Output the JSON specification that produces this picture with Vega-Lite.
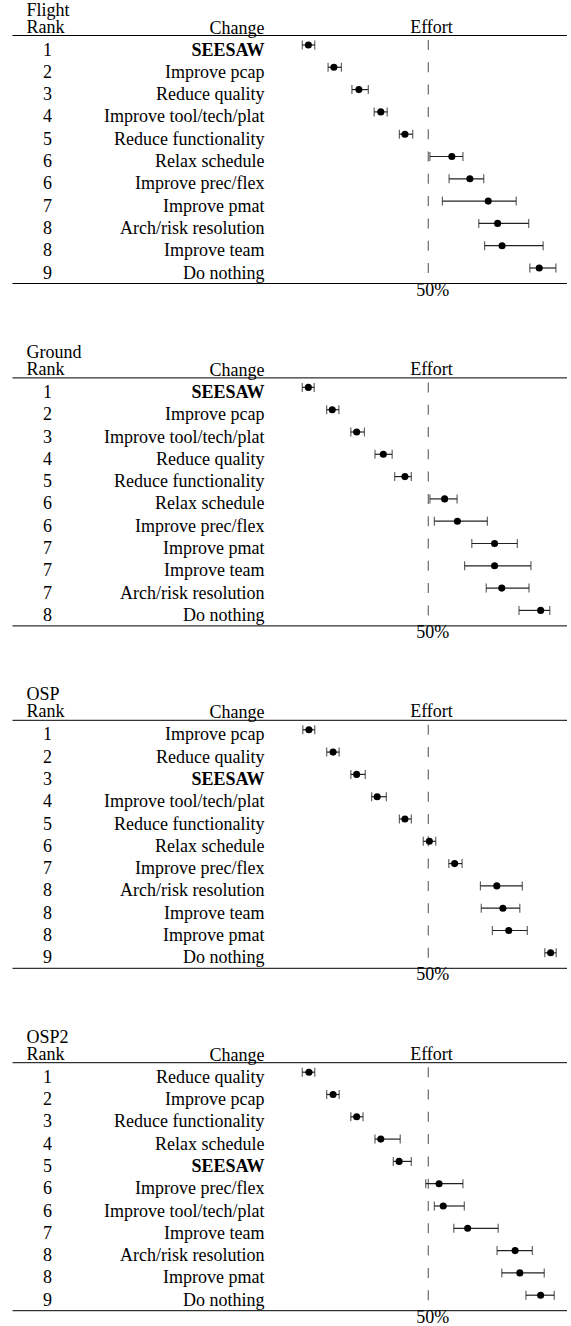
{
  "$schema": "https://vega.github.io/schema/vega-lite/v6.json",
  "background": "white",
  "padding": {"left": 12, "top": 1, "right": 0, "bottom": 0},
  "config": {"view": {"stroke": null}, "font": "Liberation Serif, Times New Roman, DejaVu Serif, serif"},
  "data": {"values": [
    {"Panel":"Flight","Order":1,"Rank":1,"Change":"SEESAW","Effort":6.8,"Lo":4.6,"Hi":9.1},
    {"Panel":"Flight","Order":2,"Rank":2,"Change":"Improve pcap","Effort":16.0,"Lo":13.9,"Hi":18.7},
    {"Panel":"Flight","Order":3,"Rank":3,"Change":"Reduce quality","Effort":25.0,"Lo":22.5,"Hi":28.4},
    {"Panel":"Flight","Order":4,"Rank":4,"Change":"Improve tool/tech/plat","Effort":32.9,"Lo":30.5,"Hi":35.2},
    {"Panel":"Flight","Order":5,"Rank":5,"Change":"Reduce functionality","Effort":41.6,"Lo":39.6,"Hi":44.4},
    {"Panel":"Flight","Order":6,"Rank":6,"Change":"Relax schedule","Effort":58.5,"Lo":50.6,"Hi":62.5},
    {"Panel":"Flight","Order":7,"Rank":6,"Change":"Improve prec/flex","Effort":65.0,"Lo":57.5,"Hi":70.0},
    {"Panel":"Flight","Order":8,"Rank":7,"Change":"Improve pmat","Effort":71.6,"Lo":55.1,"Hi":81.7},
    {"Panel":"Flight","Order":9,"Rank":8,"Change":"Arch/risk resolution","Effort":75.0,"Lo":68.2,"Hi":86.2},
    {"Panel":"Flight","Order":10,"Rank":8,"Change":"Improve team","Effort":76.6,"Lo":70.3,"Hi":91.4},
    {"Panel":"Flight","Order":11,"Rank":9,"Change":"Do nothing","Effort":90.0,"Lo":86.6,"Hi":96.0},

    {"Panel":"Ground","Order":1,"Rank":1,"Change":"SEESAW","Effort":6.8,"Lo":4.6,"Hi":8.9},
    {"Panel":"Ground","Order":2,"Rank":2,"Change":"Improve pcap","Effort":15.4,"Lo":13.4,"Hi":17.8},
    {"Panel":"Ground","Order":3,"Rank":3,"Change":"Improve tool/tech/plat","Effort":24.2,"Lo":22.1,"Hi":27.0},
    {"Panel":"Ground","Order":4,"Rank":4,"Change":"Reduce quality","Effort":33.8,"Lo":30.8,"Hi":37.0},
    {"Panel":"Ground","Order":5,"Rank":5,"Change":"Reduce functionality","Effort":41.6,"Lo":37.9,"Hi":43.9},
    {"Panel":"Ground","Order":6,"Rank":6,"Change":"Relax schedule","Effort":55.9,"Lo":50.6,"Hi":60.4},
    {"Panel":"Ground","Order":7,"Rank":6,"Change":"Improve prec/flex","Effort":60.5,"Lo":52.2,"Hi":71.3},
    {"Panel":"Ground","Order":8,"Rank":7,"Change":"Improve pmat","Effort":73.9,"Lo":65.7,"Hi":82.1},
    {"Panel":"Ground","Order":9,"Rank":7,"Change":"Improve team","Effort":73.9,"Lo":63.1,"Hi":87.0},
    {"Panel":"Ground","Order":10,"Rank":7,"Change":"Arch/risk resolution","Effort":76.5,"Lo":70.9,"Hi":86.3},
    {"Panel":"Ground","Order":11,"Rank":8,"Change":"Do nothing","Effort":90.5,"Lo":82.7,"Hi":93.8},

    {"Panel":"OSP","Order":1,"Rank":1,"Change":"Improve pcap","Effort":7.0,"Lo":4.8,"Hi":9.1},
    {"Panel":"OSP","Order":2,"Rank":2,"Change":"Reduce quality","Effort":15.7,"Lo":13.4,"Hi":17.9},
    {"Panel":"OSP","Order":3,"Rank":3,"Change":"SEESAW","Effort":24.2,"Lo":22.1,"Hi":27.3},
    {"Panel":"OSP","Order":4,"Rank":4,"Change":"Improve tool/tech/plat","Effort":31.6,"Lo":29.6,"Hi":34.9},
    {"Panel":"OSP","Order":5,"Rank":5,"Change":"Reduce functionality","Effort":41.6,"Lo":39.6,"Hi":43.9},
    {"Panel":"OSP","Order":6,"Rank":6,"Change":"Relax schedule","Effort":50.4,"Lo":48.2,"Hi":52.7},
    {"Panel":"OSP","Order":7,"Rank":7,"Change":"Improve prec/flex","Effort":59.5,"Lo":57.4,"Hi":62.2},
    {"Panel":"OSP","Order":8,"Rank":8,"Change":"Arch/risk resolution","Effort":74.7,"Lo":68.8,"Hi":83.9},
    {"Panel":"OSP","Order":9,"Rank":8,"Change":"Improve team","Effort":76.9,"Lo":69.1,"Hi":83.0},
    {"Panel":"OSP","Order":10,"Rank":8,"Change":"Improve pmat","Effort":79.0,"Lo":73.1,"Hi":85.7},
    {"Panel":"OSP","Order":11,"Rank":9,"Change":"Do nothing","Effort":94.1,"Lo":92.0,"Hi":96.1},

    {"Panel":"OSP2","Order":1,"Rank":1,"Change":"Reduce quality","Effort":7.0,"Lo":4.6,"Hi":9.1},
    {"Panel":"OSP2","Order":2,"Rank":2,"Change":"Improve pcap","Effort":15.7,"Lo":13.4,"Hi":17.9},
    {"Panel":"OSP2","Order":3,"Rank":3,"Change":"Reduce functionality","Effort":24.2,"Lo":22.1,"Hi":26.5},
    {"Panel":"OSP2","Order":4,"Rank":4,"Change":"Relax schedule","Effort":32.9,"Lo":30.8,"Hi":39.9},
    {"Panel":"OSP2","Order":5,"Rank":5,"Change":"SEESAW","Effort":39.5,"Lo":37.4,"Hi":43.9},
    {"Panel":"OSP2","Order":6,"Rank":6,"Change":"Improve prec/flex","Effort":53.9,"Lo":49.1,"Hi":62.5},
    {"Panel":"OSP2","Order":7,"Rank":6,"Change":"Improve tool/tech/plat","Effort":55.4,"Lo":52.2,"Hi":63.0},
    {"Panel":"OSP2","Order":8,"Rank":7,"Change":"Improve team","Effort":64.2,"Lo":59.2,"Hi":75.2},
    {"Panel":"OSP2","Order":9,"Rank":8,"Change":"Arch/risk resolution","Effort":81.3,"Lo":74.8,"Hi":87.5},
    {"Panel":"OSP2","Order":10,"Rank":8,"Change":"Improve pmat","Effort":83.0,"Lo":76.5,"Hi":91.8},
    {"Panel":"OSP2","Order":11,"Rank":9,"Change":"Do nothing","Effort":90.5,"Lo":85.2,"Hi":95.4}
  ]},
  "spacing": 94.4,
  "bounds": "flush",
  "vconcat": [
    {
      "width": 555, "height": 248,
      "transform": [{"filter": "datum.Panel == 'Flight'"}, {"calculate": "datum.Rank + '|' + datum.Change", "as": "Key"}],
      "resolve": {"axis": {"x": "independent", "y": "independent"}},
      "layer": [
        {"mark": {"type": "tick", "orient": "vertical", "size": 10, "thickness": 1, "color": "black"},
         "encoding": {
           "x": {"datum": 50, "type": "quantitative", "scale": {"domain": [-100, 100], "nice": false, "zero": false},
                 "axis": {"orient": "top", "labels": false, "ticks": false, "tickSize": 0, "grid": false, "domain": true, "domainColor": "black", "domainWidth": 1,
                          "title": "Effort", "titleFont": "Liberation Serif, Times New Roman, DejaVu Serif, serif", "titleFontSize": 18, "titleFontWeight": "normal", "titleColor": "black",
                          "titleX": 419, "titleY": -3, "titleAlign": "center", "titleBaseline": "alphabetic", "titleAngle": 0}},
           "y": {"field": "Key", "type": "ordinal", "sort": {"field": "Order", "op": "min"}, "scale": {"type": "point", "range": [10, 233], "padding": 0},
                 "axis": {"orient": "left", "labelExpr": "split(datum.value, '|')[0]", "labelAlign": "center", "labelBaseline": "alphabetic", "labelOffset": 10,
                          "labelPadding": -35, "ticks": false, "tickSize": 0, "domain": false, "grid": false,
                          "labelFont": "Liberation Serif, Times New Roman, DejaVu Serif, serif", "labelFontSize": 18, "labelColor": "black", "labelOverlap": false,
                          "title": ["Flight", "Rank"], "titleFont": "Liberation Serif, Times New Roman, DejaVu Serif, serif", "titleFontSize": 18, "titleFontWeight": "normal", "titleColor": "black",
                          "titleAngle": 0, "titleAlign": "left", "titleBaseline": "alphabetic", "titleX": 14, "titleY": -20, "titleLineHeight": 17}}
         }},
        {"mark": {"type": "rule", "color": "#222", "strokeWidth": 1.2},
         "encoding": {
           "x": {"field": "Lo", "type": "quantitative",
                 "axis": {"orient": "bottom", "values": [50], "labelExpr": "'50%'", "ticks": false, "tickSize": 0, "grid": false, "domain": true, "domainColor": "black", "domainWidth": 1,
                          "labelPadding": 12, "labelBaseline": "alphabetic", "labelOffset": 4, "labelFont": "Liberation Serif, Times New Roman, DejaVu Serif, serif", "labelFontSize": 18, "labelColor": "black", "title": null}},
           "x2": {"field": "Hi"},
           "y": {"field": "Key", "type": "ordinal", "sort": {"field": "Order", "op": "min"},
                 "axis": {"orient": "right", "labelExpr": "split(datum.value, '|')[1]", "labelAlign": "right", "labelBaseline": "alphabetic", "labelOffset": 10,
                          "labelPadding": -303, "ticks": false, "tickSize": 0, "domain": false, "grid": false, "labelLimit": 400,
                          "labelFont": "Liberation Serif, Times New Roman, DejaVu Serif, serif", "labelFontSize": 18, "labelColor": "black", "labelOverlap": false,
                          "labelFontWeight": {"condition": {"test": "indexof(datum.value, 'SEESAW') >= 0", "value": "bold"}, "value": "normal"},
                          "title": "Change", "titleFont": "Liberation Serif, Times New Roman, DejaVu Serif, serif", "titleFontSize": 18, "titleFontWeight": "normal", "titleColor": "black",
                          "titleAngle": 0, "titleAlign": "right", "titleBaseline": "alphabetic", "titleX": -303, "titleY": -2}}
         }},
        {"mark": {"type": "tick", "orient": "vertical", "size": 9, "thickness": 1.2, "color": "#222"},
         "encoding": {"x": {"field": "Lo", "type": "quantitative", "axis": null}, "y": {"field": "Key", "type": "ordinal", "sort": {"field": "Order", "op": "min"}, "axis": null}}},
        {"mark": {"type": "tick", "orient": "vertical", "size": 9, "thickness": 1.2, "color": "#222"},
         "encoding": {"x": {"field": "Hi", "type": "quantitative", "axis": null}, "y": {"field": "Key", "type": "ordinal", "sort": {"field": "Order", "op": "min"}, "axis": null}}},
        {"mark": {"type": "point", "filled": true, "size": 50, "color": "black", "opacity": 1},
         "encoding": {"x": {"field": "Effort", "type": "quantitative", "axis": null}, "y": {"field": "Key", "type": "ordinal", "sort": {"field": "Order", "op": "min"}, "axis": null}}}
      ]
    },
    {
      "width": 555, "height": 248,
      "transform": [{"filter": "datum.Panel == 'Ground'"}, {"calculate": "datum.Rank + '|' + datum.Change", "as": "Key"}],
      "resolve": {"axis": {"x": "independent", "y": "independent"}},
      "layer": [
        {"mark": {"type": "tick", "orient": "vertical", "size": 10, "thickness": 1, "color": "black"},
         "encoding": {
           "x": {"datum": 50, "type": "quantitative", "scale": {"domain": [-100, 100], "nice": false, "zero": false},
                 "axis": {"orient": "top", "labels": false, "ticks": false, "tickSize": 0, "grid": false, "domain": true, "domainColor": "black", "domainWidth": 1,
                          "title": "Effort", "titleFont": "Liberation Serif, Times New Roman, DejaVu Serif, serif", "titleFontSize": 18, "titleFontWeight": "normal", "titleColor": "black",
                          "titleX": 419, "titleY": -3, "titleAlign": "center", "titleBaseline": "alphabetic", "titleAngle": 0}},
           "y": {"field": "Key", "type": "ordinal", "sort": {"field": "Order", "op": "min"}, "scale": {"type": "point", "range": [10, 233], "padding": 0},
                 "axis": {"orient": "left", "labelExpr": "split(datum.value, '|')[0]", "labelAlign": "center", "labelBaseline": "alphabetic", "labelOffset": 10,
                          "labelPadding": -35, "ticks": false, "tickSize": 0, "domain": false, "grid": false,
                          "labelFont": "Liberation Serif, Times New Roman, DejaVu Serif, serif", "labelFontSize": 18, "labelColor": "black", "labelOverlap": false,
                          "title": ["Ground", "Rank"], "titleFont": "Liberation Serif, Times New Roman, DejaVu Serif, serif", "titleFontSize": 18, "titleFontWeight": "normal", "titleColor": "black",
                          "titleAngle": 0, "titleAlign": "left", "titleBaseline": "alphabetic", "titleX": 14, "titleY": -20, "titleLineHeight": 17}}
         }},
        {"mark": {"type": "rule", "color": "#222", "strokeWidth": 1.2},
         "encoding": {
           "x": {"field": "Lo", "type": "quantitative",
                 "axis": {"orient": "bottom", "values": [50], "labelExpr": "'50%'", "ticks": false, "tickSize": 0, "grid": false, "domain": true, "domainColor": "black", "domainWidth": 1,
                          "labelPadding": 12, "labelBaseline": "alphabetic", "labelOffset": 4, "labelFont": "Liberation Serif, Times New Roman, DejaVu Serif, serif", "labelFontSize": 18, "labelColor": "black", "title": null}},
           "x2": {"field": "Hi"},
           "y": {"field": "Key", "type": "ordinal", "sort": {"field": "Order", "op": "min"},
                 "axis": {"orient": "right", "labelExpr": "split(datum.value, '|')[1]", "labelAlign": "right", "labelBaseline": "alphabetic", "labelOffset": 10,
                          "labelPadding": -303, "ticks": false, "tickSize": 0, "domain": false, "grid": false, "labelLimit": 400,
                          "labelFont": "Liberation Serif, Times New Roman, DejaVu Serif, serif", "labelFontSize": 18, "labelColor": "black", "labelOverlap": false,
                          "labelFontWeight": {"condition": {"test": "indexof(datum.value, 'SEESAW') >= 0", "value": "bold"}, "value": "normal"},
                          "title": "Change", "titleFont": "Liberation Serif, Times New Roman, DejaVu Serif, serif", "titleFontSize": 18, "titleFontWeight": "normal", "titleColor": "black",
                          "titleAngle": 0, "titleAlign": "right", "titleBaseline": "alphabetic", "titleX": -303, "titleY": -2}}
         }},
        {"mark": {"type": "tick", "orient": "vertical", "size": 9, "thickness": 1.2, "color": "#222"},
         "encoding": {"x": {"field": "Lo", "type": "quantitative", "axis": null}, "y": {"field": "Key", "type": "ordinal", "sort": {"field": "Order", "op": "min"}, "axis": null}}},
        {"mark": {"type": "tick", "orient": "vertical", "size": 9, "thickness": 1.2, "color": "#222"},
         "encoding": {"x": {"field": "Hi", "type": "quantitative", "axis": null}, "y": {"field": "Key", "type": "ordinal", "sort": {"field": "Order", "op": "min"}, "axis": null}}},
        {"mark": {"type": "point", "filled": true, "size": 50, "color": "black", "opacity": 1},
         "encoding": {"x": {"field": "Effort", "type": "quantitative", "axis": null}, "y": {"field": "Key", "type": "ordinal", "sort": {"field": "Order", "op": "min"}, "axis": null}}}
      ]
    },
    {
      "width": 555, "height": 248,
      "transform": [{"filter": "datum.Panel == 'OSP'"}, {"calculate": "datum.Rank + '|' + datum.Change", "as": "Key"}],
      "resolve": {"axis": {"x": "independent", "y": "independent"}},
      "layer": [
        {"mark": {"type": "tick", "orient": "vertical", "size": 10, "thickness": 1, "color": "black"},
         "encoding": {
           "x": {"datum": 50, "type": "quantitative", "scale": {"domain": [-100, 100], "nice": false, "zero": false},
                 "axis": {"orient": "top", "labels": false, "ticks": false, "tickSize": 0, "grid": false, "domain": true, "domainColor": "black", "domainWidth": 1,
                          "title": "Effort", "titleFont": "Liberation Serif, Times New Roman, DejaVu Serif, serif", "titleFontSize": 18, "titleFontWeight": "normal", "titleColor": "black",
                          "titleX": 419, "titleY": -3, "titleAlign": "center", "titleBaseline": "alphabetic", "titleAngle": 0}},
           "y": {"field": "Key", "type": "ordinal", "sort": {"field": "Order", "op": "min"}, "scale": {"type": "point", "range": [10, 233], "padding": 0},
                 "axis": {"orient": "left", "labelExpr": "split(datum.value, '|')[0]", "labelAlign": "center", "labelBaseline": "alphabetic", "labelOffset": 10,
                          "labelPadding": -35, "ticks": false, "tickSize": 0, "domain": false, "grid": false,
                          "labelFont": "Liberation Serif, Times New Roman, DejaVu Serif, serif", "labelFontSize": 18, "labelColor": "black", "labelOverlap": false,
                          "title": ["OSP", "Rank"], "titleFont": "Liberation Serif, Times New Roman, DejaVu Serif, serif", "titleFontSize": 18, "titleFontWeight": "normal", "titleColor": "black",
                          "titleAngle": 0, "titleAlign": "left", "titleBaseline": "alphabetic", "titleX": 14, "titleY": -20, "titleLineHeight": 17}}
         }},
        {"mark": {"type": "rule", "color": "#222", "strokeWidth": 1.2},
         "encoding": {
           "x": {"field": "Lo", "type": "quantitative",
                 "axis": {"orient": "bottom", "values": [50], "labelExpr": "'50%'", "ticks": false, "tickSize": 0, "grid": false, "domain": true, "domainColor": "black", "domainWidth": 1,
                          "labelPadding": 12, "labelBaseline": "alphabetic", "labelOffset": 4, "labelFont": "Liberation Serif, Times New Roman, DejaVu Serif, serif", "labelFontSize": 18, "labelColor": "black", "title": null}},
           "x2": {"field": "Hi"},
           "y": {"field": "Key", "type": "ordinal", "sort": {"field": "Order", "op": "min"},
                 "axis": {"orient": "right", "labelExpr": "split(datum.value, '|')[1]", "labelAlign": "right", "labelBaseline": "alphabetic", "labelOffset": 10,
                          "labelPadding": -303, "ticks": false, "tickSize": 0, "domain": false, "grid": false, "labelLimit": 400,
                          "labelFont": "Liberation Serif, Times New Roman, DejaVu Serif, serif", "labelFontSize": 18, "labelColor": "black", "labelOverlap": false,
                          "labelFontWeight": {"condition": {"test": "indexof(datum.value, 'SEESAW') >= 0", "value": "bold"}, "value": "normal"},
                          "title": "Change", "titleFont": "Liberation Serif, Times New Roman, DejaVu Serif, serif", "titleFontSize": 18, "titleFontWeight": "normal", "titleColor": "black",
                          "titleAngle": 0, "titleAlign": "right", "titleBaseline": "alphabetic", "titleX": -303, "titleY": -2}}
         }},
        {"mark": {"type": "tick", "orient": "vertical", "size": 9, "thickness": 1.2, "color": "#222"},
         "encoding": {"x": {"field": "Lo", "type": "quantitative", "axis": null}, "y": {"field": "Key", "type": "ordinal", "sort": {"field": "Order", "op": "min"}, "axis": null}}},
        {"mark": {"type": "tick", "orient": "vertical", "size": 9, "thickness": 1.2, "color": "#222"},
         "encoding": {"x": {"field": "Hi", "type": "quantitative", "axis": null}, "y": {"field": "Key", "type": "ordinal", "sort": {"field": "Order", "op": "min"}, "axis": null}}},
        {"mark": {"type": "point", "filled": true, "size": 50, "color": "black", "opacity": 1},
         "encoding": {"x": {"field": "Effort", "type": "quantitative", "axis": null}, "y": {"field": "Key", "type": "ordinal", "sort": {"field": "Order", "op": "min"}, "axis": null}}}
      ]
    },
    {
      "width": 555, "height": 248,
      "transform": [{"filter": "datum.Panel == 'OSP2'"}, {"calculate": "datum.Rank + '|' + datum.Change", "as": "Key"}],
      "resolve": {"axis": {"x": "independent", "y": "independent"}},
      "layer": [
        {"mark": {"type": "tick", "orient": "vertical", "size": 10, "thickness": 1, "color": "black"},
         "encoding": {
           "x": {"datum": 50, "type": "quantitative", "scale": {"domain": [-100, 100], "nice": false, "zero": false},
                 "axis": {"orient": "top", "labels": false, "ticks": false, "tickSize": 0, "grid": false, "domain": true, "domainColor": "black", "domainWidth": 1,
                          "title": "Effort", "titleFont": "Liberation Serif, Times New Roman, DejaVu Serif, serif", "titleFontSize": 18, "titleFontWeight": "normal", "titleColor": "black",
                          "titleX": 419, "titleY": -3, "titleAlign": "center", "titleBaseline": "alphabetic", "titleAngle": 0}},
           "y": {"field": "Key", "type": "ordinal", "sort": {"field": "Order", "op": "min"}, "scale": {"type": "point", "range": [10, 233], "padding": 0},
                 "axis": {"orient": "left", "labelExpr": "split(datum.value, '|')[0]", "labelAlign": "center", "labelBaseline": "alphabetic", "labelOffset": 10,
                          "labelPadding": -35, "ticks": false, "tickSize": 0, "domain": false, "grid": false,
                          "labelFont": "Liberation Serif, Times New Roman, DejaVu Serif, serif", "labelFontSize": 18, "labelColor": "black", "labelOverlap": false,
                          "title": ["OSP2", "Rank"], "titleFont": "Liberation Serif, Times New Roman, DejaVu Serif, serif", "titleFontSize": 18, "titleFontWeight": "normal", "titleColor": "black",
                          "titleAngle": 0, "titleAlign": "left", "titleBaseline": "alphabetic", "titleX": 14, "titleY": -20, "titleLineHeight": 17}}
         }},
        {"mark": {"type": "rule", "color": "#222", "strokeWidth": 1.2},
         "encoding": {
           "x": {"field": "Lo", "type": "quantitative",
                 "axis": {"orient": "bottom", "values": [50], "labelExpr": "'50%'", "ticks": false, "tickSize": 0, "grid": false, "domain": true, "domainColor": "black", "domainWidth": 1,
                          "labelPadding": 12, "labelBaseline": "alphabetic", "labelOffset": 4, "labelFont": "Liberation Serif, Times New Roman, DejaVu Serif, serif", "labelFontSize": 18, "labelColor": "black", "title": null}},
           "x2": {"field": "Hi"},
           "y": {"field": "Key", "type": "ordinal", "sort": {"field": "Order", "op": "min"},
                 "axis": {"orient": "right", "labelExpr": "split(datum.value, '|')[1]", "labelAlign": "right", "labelBaseline": "alphabetic", "labelOffset": 10,
                          "labelPadding": -303, "ticks": false, "tickSize": 0, "domain": false, "grid": false, "labelLimit": 400,
                          "labelFont": "Liberation Serif, Times New Roman, DejaVu Serif, serif", "labelFontSize": 18, "labelColor": "black", "labelOverlap": false,
                          "labelFontWeight": {"condition": {"test": "indexof(datum.value, 'SEESAW') >= 0", "value": "bold"}, "value": "normal"},
                          "title": "Change", "titleFont": "Liberation Serif, Times New Roman, DejaVu Serif, serif", "titleFontSize": 18, "titleFontWeight": "normal", "titleColor": "black",
                          "titleAngle": 0, "titleAlign": "right", "titleBaseline": "alphabetic", "titleX": -303, "titleY": -2}}
         }},
        {"mark": {"type": "tick", "orient": "vertical", "size": 9, "thickness": 1.2, "color": "#222"},
         "encoding": {"x": {"field": "Lo", "type": "quantitative", "axis": null}, "y": {"field": "Key", "type": "ordinal", "sort": {"field": "Order", "op": "min"}, "axis": null}}},
        {"mark": {"type": "tick", "orient": "vertical", "size": 9, "thickness": 1.2, "color": "#222"},
         "encoding": {"x": {"field": "Hi", "type": "quantitative", "axis": null}, "y": {"field": "Key", "type": "ordinal", "sort": {"field": "Order", "op": "min"}, "axis": null}}},
        {"mark": {"type": "point", "filled": true, "size": 50, "color": "black", "opacity": 1},
         "encoding": {"x": {"field": "Effort", "type": "quantitative", "axis": null}, "y": {"field": "Key", "type": "ordinal", "sort": {"field": "Order", "op": "min"}, "axis": null}}}
      ]
    }
  ]
}
